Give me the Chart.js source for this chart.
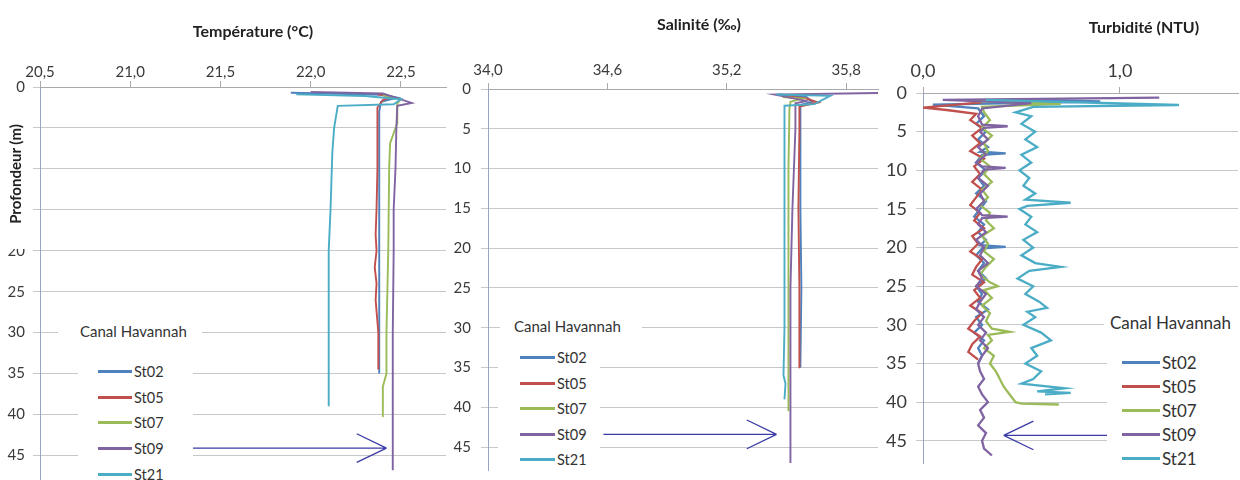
<!DOCTYPE html>
<html>
<head>
<meta charset="utf-8">
<script src="https://cdn.jsdelivr.net/npm/chart.js@4/dist/chart.umd.min.js"></script>
<style>
  body { margin: 0; width: 1240px; height: 480px; overflow: hidden; background: #fff; position: relative; font-family: Lato, sans-serif; color: #333; }
  canvas { position: absolute; top: 0; }
  .title { position: absolute; font-weight: bold; font-size: 16px; color: #222; white-space: nowrap; transform: translate(-50%, -50%); }
  .ytitle { position: absolute; font-weight: bold; font-size: 15px; color: #222; white-space: nowrap; background: #fff;
            width: 150px; height: 26px; line-height: 26px; text-align: center; transform: translate(-50%, -50%) rotate(-90deg); }
  .caption { position: absolute; background: #fff; white-space: nowrap; }
  .legend { position: absolute; background: #fff; }
  .legend .row { display: flex; align-items: center; }
  .legend .sample { height: 0; border-top: 3px solid; margin-right: 2px; }
</style>
</head>
<body>
<canvas id="temp" width="448" height="480" style="left:0"></canvas>
<canvas id="sal" width="432" height="471" style="left:448px"></canvas>
<canvas id="turb" width="360" height="464" style="left:880px"></canvas>

<div class="title" style="left:253px;top:30px">Température (°C)</div>
<div class="title" style="left:699px;top:23px">Salinité (‰)</div>
<div class="title" style="left:1144px;top:26px">Turbidité (NTU)</div>
<div class="ytitle" style="left:15px;top:174px">Profondeur (m)</div>

<div class="caption" style="left:58px;top:321px;width:122px;padding-left:22px;font-size:15px;line-height:20px">Canal Havannah</div>
<div class="caption" style="left:500px;top:316px;width:128px;padding-left:14px;font-size:15px;line-height:20px">Canal Havannah</div>
<div class="caption" style="left:1104px;top:312px;width:130px;padding-left:6px;font-size:17px;line-height:22px">Canal Havannah</div>

<div class="legend" id="legend-temp" style="left:78px;top:359px;width:95px;padding-left:20px;font-size:14.5px"></div>
<div class="legend" id="legend-sal" style="left:498px;top:345px;width:80px;padding-left:22px;font-size:14.5px"></div>
<div class="legend" id="legend-turb" style="left:1107px;top:350px;width:118px;padding-left:15px;font-size:17px"></div>

<script>
const stations = ['St02', 'St05', 'St07', 'St09', 'St21'];
const colors = ['#4f81bd', '#c0504d', '#9bbb59', '#8064a2', '#4bacc6'];

const depthTicks = [0, 5, 10, 15, 20, 25, 30, 35, 40, 45];
const tempTicks = [20.5, 21.0, 21.5, 22.0, 22.5];
const salTicks = [34.0, 34.6, 35.2, 35.8];
const turbTicks = [0.0, 1.0];

// temperature (°C) against depth (m)
const tempDepthSt02 = [0.7, 0.95, 1.3, 1.8, 3, 10, 20, 30, 35];
const tempSt02 = [21.89, 22.40, 22.48, 22.39, 22.38, 22.38, 22.38, 22.38, 22.38];
const tempDepthSt05 = [0.9, 1.2, 1.6, 2.5, 5, 10, 15, 18, 20, 22, 24, 26, 30, 34.5];
const tempSt05 = [22.37, 22.45, 22.40, 22.37, 22.37, 22.37, 22.365, 22.36, 22.365, 22.355, 22.365, 22.36, 22.375, 22.375];
const tempDepthSt07 = [1.0, 1.5, 2.0, 4.4, 6.9, 10, 20, 30, 35, 36.6, 40.3];
const tempSt07 = [22.40, 22.50, 22.48, 22.48, 22.44, 22.435, 22.43, 22.42, 22.42, 22.40, 22.40];
const tempDepthSt09 = [0.6, 0.8, 1.5, 1.95, 2.3, 5, 10, 15, 20, 30, 40, 46.8];
const tempSt09 = [22.0, 22.40, 22.50, 22.56, 22.48, 22.475, 22.47, 22.46, 22.46, 22.455, 22.455, 22.455];
const tempDepthSt21 = [0.9, 1.1, 1.5, 2.1, 2.3, 5, 8, 15, 20, 30, 39];
const tempSt21 = [21.92, 22.30, 22.50, 22.46, 22.15, 22.13, 22.12, 22.11, 22.10, 22.10, 22.10];

// salinity (‰) against depth (m)
const salDepthSt02 = [0.7, 1.0, 1.6, 2.0, 5, 15, 25, 35];
const salSt02 = [35.46, 35.60, 35.63, 35.57, 35.57, 35.57, 35.575, 35.57];
const salDepthSt05 = [0.9, 1.2, 1.7, 2.2, 5, 15, 25, 35.1];
const salSt05 = [35.50, 35.60, 35.66, 35.565, 35.565, 35.56, 35.565, 35.565];
const salDepthSt07 = [1.0, 1.2, 1.6, 2.5, 10, 20, 30, 40.5];
const salSt07 = [35.48, 35.58, 35.52, 35.515, 35.51, 35.51, 35.51, 35.51];
const salDepthSt09 = [0.45, 0.7, 1.5, 1.8, 5, 15, 25, 35, 47];
const salSt09 = [36.10, 35.44, 35.60, 35.545, 35.545, 35.53, 35.52, 35.52, 35.52];
const salDepthSt21 = [0.7, 0.85, 1.9, 2.1, 10, 20, 30, 36, 37, 39];
const salSt21 = [35.45, 35.72, 35.64, 35.49, 35.49, 35.49, 35.49, 35.485, 35.495, 35.49];

// turbidity (NTU) against depth (m)
const turbDepthSt02 = [0.8, 1.1, 1.5, 2.0, 3, 4, 5, 6, 7, 7.6, 7.8, 8.0, 9, 10, 11, 12, 13, 14, 15, 16, 17, 18, 19, 19.7, 19.9, 20.1,
  21, 22, 23, 24, 25, 26, 27, 28, 29, 30, 31, 32, 33, 34, 35];
const turbSt02 = [0.45, 0.90, 0.05, 0.28, 0.31, 0.27, 0.32, 0.28, 0.33, 0.29, 0.42, 0.30, 0.27, 0.32, 0.28, 0.31, 0.27, 0.32, 0.29, 0.26, 0.31, 0.28, 0.32, 0.29, 0.42, 0.30,
  0.27, 0.31, 0.28, 0.32, 0.27, 0.30, 0.28, 0.33, 0.27, 0.30, 0.26, 0.31, 0.28, 0.30, 0.28];
const turbDepthSt05 = [1.2, 1.9, 2.2, 2.7, 3.5, 4.5, 5.5, 6.5, 7.5, 8.5, 9.5, 10.5, 11.5, 12.5, 13.5, 14.5, 15.5, 16.5, 17.5, 18.5,
  19.5, 20.5, 21.5, 22.5, 23.5, 24.5, 25.5, 26.5, 27.5, 28.5, 29.5, 30.5, 31.5, 32.5, 33.5, 34.5];
const turbSt05 = [0.30, 0.00, 0.12, 0.27, 0.24, 0.30, 0.25, 0.29, 0.24, 0.31, 0.26, 0.29, 0.25, 0.30, 0.27, 0.24, 0.29, 0.26, 0.31, 0.25,
  0.28, 0.24, 0.30, 0.27, 0.25, 0.31, 0.26, 0.29, 0.24, 0.30, 0.26, 0.23, 0.29, 0.25, 0.23, 0.28];
const turbDepthSt07 = [1.0, 1.4, 1.8, 2.5, 3.5, 4.5, 5.5, 6.5, 7.5, 8.5, 9.5, 10.5, 11.5, 12.5, 13.5, 14.5, 15.5, 16.5, 17.5, 18.5,
  19.5, 20.5, 21.5, 22.5, 23.5, 24.5, 25.0, 25.5, 26.5, 27.5, 28.5, 29.5, 30.5, 30.9, 31.3, 32, 33, 34, 35, 36, 36.5, 37, 38, 39, 40, 40.2, 40.3];
const turbSt07 = [0.25, 0.70, 0.30, 0.31, 0.34, 0.30, 0.35, 0.31, 0.33, 0.29, 0.34, 0.31, 0.35, 0.30, 0.33, 0.29, 0.34, 0.32, 0.36, 0.30,
  0.33, 0.31, 0.36, 0.32, 0.29, 0.34, 0.38, 0.31, 0.35, 0.30, 0.34, 0.32, 0.35, 0.44, 0.33, 0.35, 0.31, 0.36, 0.34, 0.37, 0.38, 0.39, 0.41, 0.44, 0.47, 0.50, 0.69];
const turbDepthSt09 = [0.6, 0.9, 1.3, 2.0, 3, 4.1, 4.3, 4.5, 5, 6, 7, 8, 9, 9.5, 9.7, 9.9, 11, 12, 13, 14, 15, 15.8, 16.0, 16.2,
  17, 18, 19, 20, 21, 22, 23, 24, 25, 26, 27, 28, 29, 30, 31, 32, 33, 34, 35, 36, 37, 38, 39, 40, 41, 42, 43, 44, 45, 46, 46.9];
const turbSt09 = [1.20, 0.10, 0.55, 0.30, 0.28, 0.30, 0.43, 0.31, 0.29, 0.33, 0.28, 0.32, 0.27, 0.30, 0.42, 0.31, 0.28, 0.33, 0.29, 0.31, 0.27, 0.30, 0.43, 0.30,
  0.28, 0.32, 0.27, 0.31, 0.29, 0.33, 0.28, 0.30, 0.27, 0.32, 0.29, 0.27, 0.31, 0.28, 0.32, 0.29, 0.33, 0.30, 0.28, 0.29, 0.31, 0.28, 0.30, 0.33, 0.29, 0.31, 0.28, 0.32, 0.30, 0.31, 0.35];
const turbDepthSt21 = [0.9, 1.55, 1.8, 2.5, 3, 4, 5, 6, 7, 8, 9, 10, 11, 12, 13, 13.8, 14.2, 14.6, 15, 16, 17, 18, 19, 20, 21, 22,
  22.5, 23, 24, 25, 26, 27, 27.8, 28.3, 29, 30, 31, 32, 33, 34, 35, 36, 37, 37.6, 38.2, 38.6, 38.8, 39];
const turbSt21 = [0.32, 1.30, 0.56, 0.47, 0.55, 0.50, 0.57, 0.52, 0.58, 0.50, 0.55, 0.49, 0.54, 0.51, 0.57, 0.52, 0.75, 0.53, 0.49, 0.55, 0.52, 0.58, 0.51, 0.56, 0.50, 0.57,
  0.70, 0.54, 0.48, 0.56, 0.52, 0.59, 0.63, 0.53, 0.57, 0.51, 0.60, 0.65, 0.55, 0.58, 0.52, 0.60, 0.56, 0.50, 0.72, 0.58, 0.75, 0.62];

// the blue arrows, in data units [value, depth]
const arrowTemp = { from: [21.26, 44.1], to: [22.42, 44.1] };
const arrowSal = { from: [34.58, 43.4], to: [35.45, 43.4] };
const arrowTurb = { from: [0.94, 44.3], to: [0.41, 44.3] };

Chart.defaults.font.family = 'Lato, sans-serif';
Chart.defaults.color = '#3a3a3a';

function profile(depths, values) {
  return depths.map((depth, i) => ({ x: values[i], y: depth }));
}

const arrowPlugin = {
  id: 'arrow',
  afterDatasetsDraw(chart, args, opts) {
    if (!opts.from) return;
    const { ctx, scales: { x, y } } = chart;
    const x0 = x.getPixelForValue(opts.from[0]), y0 = y.getPixelForValue(opts.from[1]);
    const x1 = x.getPixelForValue(opts.to[0]), y1 = y.getPixelForValue(opts.to[1]);
    const angle = Math.atan2(y1 - y0, x1 - x0);
    ctx.save();
    ctx.strokeStyle = '#3b3ba6';
    ctx.lineWidth = 1.3;
    ctx.beginPath();
    ctx.moveTo(x0, y0);
    ctx.lineTo(x1, y1);
    for (const side of [-1, 1]) {
      const a = angle + Math.PI + side * 0.45;
      ctx.moveTo(x1, y1);
      ctx.lineTo(x1 + 33 * Math.cos(a), y1 + 33 * Math.sin(a));
    }
    ctx.stroke();
    ctx.restore();
  }
};

function htmlLegend(chart, id, rowHeight, sampleWidth) {
  const box = document.getElementById(id);
  for (const ds of chart.data.datasets) {
    const row = document.createElement('div');
    row.className = 'row';
    row.style.height = rowHeight;
    const sample = document.createElement('span');
    sample.className = 'sample';
    sample.style.borderColor = ds.borderColor;
    sample.style.width = sampleWidth;
    const label = document.createElement('span');
    label.textContent = ds.label;
    row.append(sample, label);
    box.append(row);
  }
}

function profileChart(id, series, cfg) {
  const datasets = series.map((points, i) => ({
    label: stations[i],
    data: points,
    showLine: true,
    borderColor: colors[i],
    backgroundColor: colors[i],
    borderWidth: cfg.line,
    pointRadius: 0,
    order: series.length - i,
  }));

  return new Chart(document.getElementById(id), {
    type: 'scatter',
    data: { datasets },
    plugins: [arrowPlugin],
    options: {
      responsive: false,
      animation: false,
      events: [],
      layout: { padding: { left: 0, top: 0, right: 2, bottom: 0 } },
      plugins: { legend: { display: false }, tooltip: { enabled: false }, arrow: cfg.arrow },
      scales: {
        x: {
          type: 'linear', position: 'top', min: cfg.min, max: cfg.max,
          afterBuildTicks: (s) => { s.ticks = cfg.ticks.map(value => ({ value })); },
          afterFit: (s) => { s.height = cfg.top; s.paddingLeft = 0; s.paddingRight = 0; },
          ticks: {
            callback: (v) => v.toFixed(1).replace('.', ','),
            font: { size: cfg.font }, padding: cfg.xPad, maxRotation: 0, autoSkip: false,
          },
          grid: { drawOnChartArea: false, tickLength: 6, tickColor: '#a9a9a9' },
          border: { color: '#a9a9a9' },
        },
        y: {
          type: 'linear', reverse: true, min: 0, max: 48,
          afterBuildTicks: (s) => { s.ticks = depthTicks.map(value => ({ value })); },
          afterFit: (s) => { s.width = cfg.left; s.paddingTop = 0; s.paddingBottom = 0; },
          ticks: { font: { size: cfg.font }, padding: cfg.yPad, autoSkip: false },
          grid: { color: '#c6c8cc', tickLength: 7 },
          border: { color: '#97a5c4' },
        },
      },
    },
  });
}

const tempChart = profileChart('temp', [
  profile(tempDepthSt02, tempSt02),
  profile(tempDepthSt05, tempSt05),
  profile(tempDepthSt07, tempSt07),
  profile(tempDepthSt09, tempSt09),
  profile(tempDepthSt21, tempSt21),
], { min: 20.5, max: 22.75, ticks: tempTicks, top: 87, left: 40, font: 15, xPad: 0, yPad: 8, line: 1.9, arrow: arrowTemp });

const salChart = profileChart('sal', [
  profile(salDepthSt02, salSt02),
  profile(salDepthSt05, salSt05),
  profile(salDepthSt07, salSt07),
  profile(salDepthSt09, salSt09),
  profile(salDepthSt21, salSt21),
], { min: 34.0, max: 35.96, ticks: salTicks, top: 89, left: 40, font: 15, xPad: 4, yPad: 10, line: 1.9, arrow: arrowSal });

const turbChart = profileChart('turb', [
  profile(turbDepthSt02, turbSt02),
  profile(turbDepthSt05, turbSt05),
  profile(turbDepthSt07, turbSt07),
  profile(turbDepthSt09, turbSt09),
  profile(turbDepthSt21, turbSt21),
], { min: 0, max: 1.6, ticks: turbTicks, top: 93, left: 43, font: 18, xPad: 5, yPad: 9, line: 2.3, arrow: arrowTurb });

htmlLegend(tempChart, 'legend-temp', '25.6px', '34px');
htmlLegend(salChart, 'legend-sal', '25.5px', '35px');
htmlLegend(turbChart, 'legend-turb', '24px', '38px');
</script>
</body>
</html>
